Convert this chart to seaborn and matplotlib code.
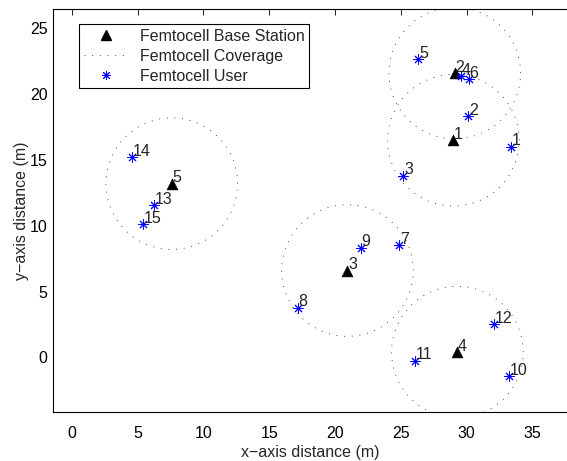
"""Femtocell layout: base stations, coverage circles and users."""

import matplotlib

matplotlib.use("Agg")

import matplotlib.pyplot as plt
import numpy as np
import pandas as pd
import seaborn as sns
from matplotlib.lines import Line2D

# base stations (m)
bs_x = [29.0, 29.1, 20.95, 29.3, 7.6]
bs_y = [16.5, 21.6, 6.6, 0.4, 13.2]
coverage_radius = 5.0

# users (m)
user_x = [33.38, 30.14, 25.2, 29.56, 26.34, 30.19, 24.87, 17.17,
          21.96, 33.25, 26.09, 32.11, 6.25, 4.56, 5.44]
user_y = [16.0, 18.34, 13.8, 21.38, 22.67, 21.15, 8.53, 3.77,
          8.33, -1.42, -0.26, 2.51, 11.57, 15.2, 10.13]

bs_df = pd.DataFrame({"x": bs_x, "y": bs_y, "id": range(1, len(bs_x) + 1)})
user_df = pd.DataFrame({"x": user_x, "y": user_y, "id": range(1, len(user_x) + 1)})

FS = 11.5

sns.set_style("white")
plt.rcParams["font.family"] = ["Liberation Sans", "DejaVu Sans"]

fig = plt.figure(figsize=(5.67, 4.61), dpi=100)
ax = fig.add_axes([53.3 / 567, (461 - 411.7) / 461, (567 - 53.3) / 567, (411.7 - 9.3) / 461])

# coverage circles
theta = np.linspace(0, 2 * np.pi, 300)
for cx, cy in zip(bs_x, bs_y):
    ax.plot(cx + coverage_radius * np.cos(theta), cy + coverage_radius * np.sin(theta),
            color="#333333", linewidth=0.6, linestyle=(0, (1.2, 8)))

sns.scatterplot(data=bs_df, x="x", y="y", marker="^", s=60, color="black",
                edgecolor="black", linewidth=0.5, ax=ax, zorder=3)
sns.scatterplot(data=user_df, x="x", y="y", marker=(8, 2, 0), s=45, color="blue",
                edgecolor="blue", linewidth=0.7, ax=ax, zorder=3)

for df in (bs_df, user_df):
    for _, row in df.iterrows():
        ax.text(row["x"] + 0.05, row["y"] + 0.45, str(int(row["id"])),
                ha="left", va="center", fontsize=FS, zorder=4)

ax.set_xlim(-1.4, 37.63)
ax.set_ylim(-4.13, 26.45)
ax.set_xticks(range(0, 40, 5))
ax.set_yticks(range(0, 30, 5))
ax.tick_params(direction="in", top=True, right=False, length=4, width=0.6,
               labelsize=FS, colors="black")
ax.tick_params(axis="x", pad=10)
ax.tick_params(axis="y", pad=4)
for side in ("left", "bottom", "top"):
    ax.spines[side].set_color("black")
    ax.spines[side].set_linewidth(0.8)
ax.spines["right"].set_visible(False)

ax.set_xlabel("x\u2212axis distance (m)", fontsize=FS, labelpad=3)
ax.set_ylabel("y\u2212axis distance (m)", fontsize=FS, labelpad=1)

handles = [
    Line2D([], [], linestyle="none", marker="^", color="black", markersize=7),
    Line2D([], [], color="#333333", linewidth=0.6, linestyle=(0, (1.2, 8))),
    Line2D([], [], linestyle="none", marker=(8, 2, 0), color="blue", markersize=6.5,
           markeredgewidth=0.7),
]
labels = ["Femtocell Base Station", "Femtocell Coverage", "Femtocell User"]
leg = ax.legend(handles, labels, loc="upper left", bbox_to_anchor=(0.05, 0.963),
                borderaxespad=0, fancybox=False, fontsize=FS, handlelength=2.8,
                handletextpad=0.7, labelspacing=0.3, borderpad=0.3, framealpha=1)
leg.get_frame().set_edgecolor("black")
leg.get_frame().set_linewidth(0.8)

fig.savefig("out.png", dpi=100)
plt.close(fig)
